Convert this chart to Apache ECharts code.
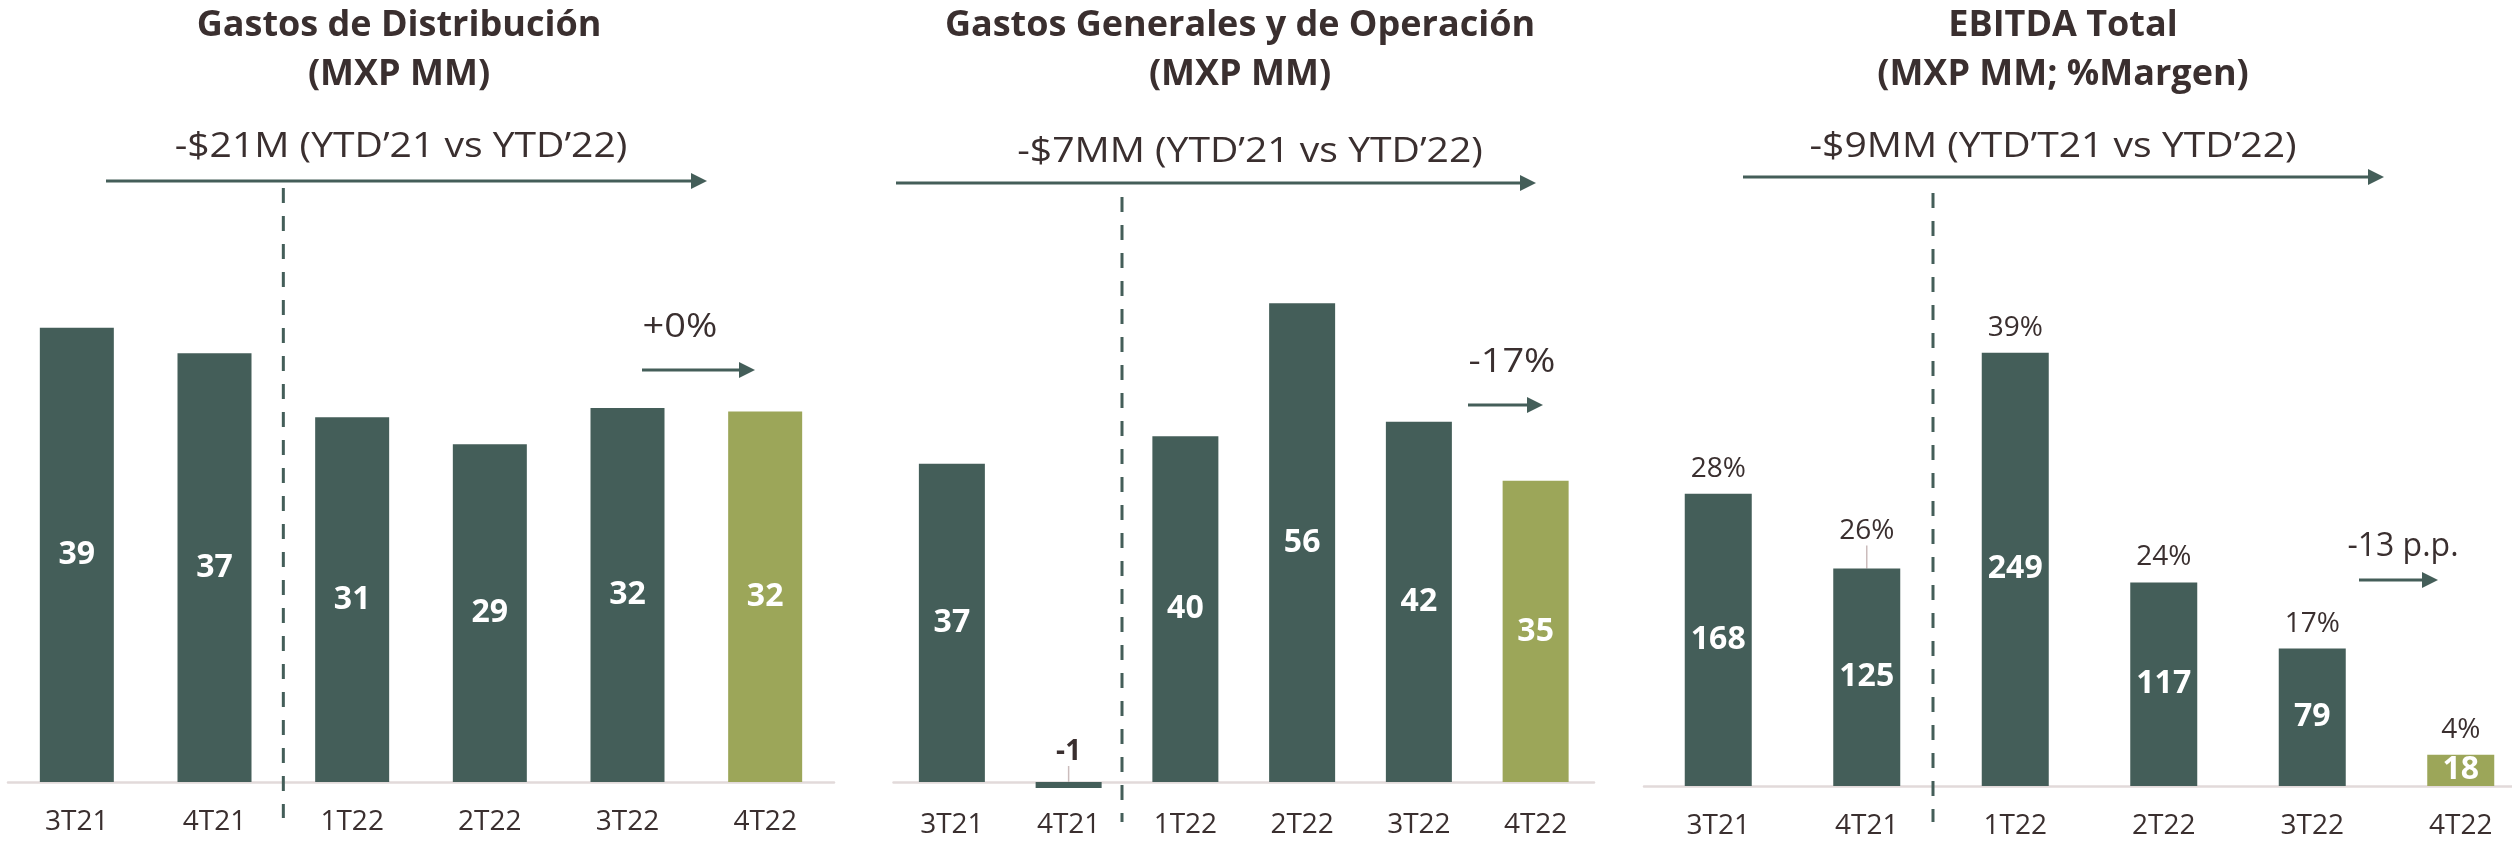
<!DOCTYPE html>
<html>
<head>
<meta charset="utf-8">
<script src="https://cdn.jsdelivr.net/npm/echarts@6/dist/echarts.min.js"></script>
<style>
html,body{margin:0;padding:0;background:#fff;}
#main{width:2512px;height:842px;}
</style>
</head>
<body>
<div id="main"></div>
<script>
// datos
var categories = ['3T21', '4T21', '1T22', '2T22', '3T22', '4T22'];
var distribucion = [39.0, 36.8, 31.3, 29.0, 32.1, 31.8];
var generales = [37.1, -0.7, 40.3, 55.8, 42.0, 35.1];
var ebitda = [168, 125, 249, 117, 79, 18];
var margen = [28, 26, 39, 24, 17, 4];
var titulos = [
    ['Gastos de Distribución', '(MXP MM)'],
    ['Gastos Generales y de Operación', '(MXP MM)'],
    ['EBITDA Total', '(MXP MM; %Margen)']
];
var ytd = ['-$21M (YTD’21 vs YTD’22)', '-$7MM (YTD’21 vs YTD’22)', '-$9MM (YTD’T21 vs YTD’22)'];
var cambio = ['+0%', '-17%', '-13 p.p.'];

(function(dom){
    var GREEN = '#445e59', OLIVE = '#9ca659', TEXT = '#3a2f2f', AXIS = '#e2dada', GUIDE = '#cbbcbc';
    var FONT = "'Open Sans', 'Noto Sans', sans-serif";

    var app = {
        chart: null,
        init: function(){
            this.chart = echarts.init(dom.getElementById('main'));
            this.chart.setOption(this.buildOption());
            this.chart.setOption({graphic: this.buildGraphic()});
        },
        barColor: function(p){
            return p.dataIndex === categories.length - 1 ? OLIVE : GREEN;
        },
        grid: function(left, width, top, height){
            // sin ajuste automatico de bordes (v6)
            return {left: left, width: width, top: top, height: height, containLabel: false, outerBoundsMode: 'none'};
        },
        xAxis: function(i, margin){
            return {
                type: 'category', gridIndex: i, data: categories,
                axisTick: {show: false},
                axisLine: {lineStyle: {color: AXIS, width: 2.5}},
                axisLabel: {color: TEXT, fontSize: 28, fontFamily: FONT, margin: margin}
            };
        },
        yAxis: function(i, min, max, step){
            return {type: 'value', gridIndex: i, min: min, max: max, interval: step, show: false, splitLine: {show: false}};
        },
        valueLabel: {
            show: true, position: 'inside', color: '#fff', fontSize: 32, fontWeight: 'bold', fontFamily: FONT,
            formatter: function(p){ return Math.round(p.value); }
        },
        buildOption: function(){
            var self = this;
            return {
                animation: false,
                backgroundColor: '#fff',
                grid: [
                    this.grid(8, 826, 199.5, 582.5),
                    this.grid(893.5, 700.5, 267.2, 523.4),
                    this.grid(1644, 891, 264, 522)
                ],
                xAxis: [this.xAxis(0, 26), this.xAxis(1, 20), this.xAxis(2, 26)],
                yAxis: [this.yAxis(0, 0, 50, 10), this.yAxis(1, -1, 60, 1), this.yAxis(2, 0, 300, 50)],
                series: [
                    {
                        type: 'bar', xAxisIndex: 0, yAxisIndex: 0, barWidth: 74,
                        data: distribucion,
                        itemStyle: {color: self.barColor},
                        label: self.valueLabel
                    },
                    {
                        type: 'bar', xAxisIndex: 1, yAxisIndex: 1, barWidth: 66,
                        data: generales.map(function(v){
                            if (v < 0) {
                                return {
                                    value: v,
                                    label: {position: 'top', color: TEXT, fontSize: 28, distance: 4},
                                    labelLine: {show: true, lineStyle: {color: GUIDE, width: 1.5}}
                                };
                            }
                            return v;
                        }),
                        itemStyle: {color: self.barColor},
                        label: self.valueLabel,
                        labelLayout: function(p){
                            if (generales[p.dataIndex] < 0) return {dy: -12};
                        }
                    },
                    {
                        type: 'bar', xAxisIndex: 2, yAxisIndex: 2, barWidth: 67,
                        data: ebitda,
                        itemStyle: {color: self.barColor},
                        label: self.valueLabel
                    },
                    {
                        // margen sobre cada barra
                        type: 'bar', xAxisIndex: 2, yAxisIndex: 2, barWidth: 67, barGap: '-100%',
                        data: ebitda.map(function(v, i){
                            if (i === 1) {
                                return {value: v, labelLine: {show: true, lineStyle: {color: GUIDE, width: 1.5}}};
                            }
                            return v;
                        }),
                        silent: true,
                        itemStyle: {color: 'rgba(0,0,0,0)'},
                        label: {
                            show: true, position: 'top', distance: 11, color: TEXT, fontSize: 28, fontFamily: FONT,
                            formatter: function(p){ return margen[p.dataIndex] + '%'; }
                        },
                        labelLine: {show: false},
                        labelLayout: function(p){
                            if (p.dataIndex === 1) return {dy: -12};
                        }
                    }
                ]
            };
        },
        arrow: function(x1, x2, y){
            return {
                type: 'group', children: [
                    {type: 'line', shape: {x1: x1, y1: y, x2: x2 - 12, y2: y}, style: {stroke: GREEN, lineWidth: 3}},
                    {type: 'polygon', shape: {points: [[x2 - 16, y - 8], [x2, y], [x2 - 16, y + 8]]}, style: {fill: GREEN}}
                ]
            };
        },
        text: function(str, x, y, size, bold, sx){
            return {
                type: 'text', x: x, y: y, scaleX: sx || 1,
                style: {
                    text: str, fill: TEXT, align: 'center', verticalAlign: 'middle',
                    fontSize: size, fontWeight: bold ? 'bold' : 'normal', fontFamily: FONT
                }
            };
        },
        buildGraphic: function(){
            var g = [];
            var titleX = [399, 1240, 2063];
            var ytdPos = [[401, 147], [1250, 152], [2053, 147]];
            var bigArrow = [[106, 707, 181], [896, 1536, 183], [1743, 2384, 177]];
            var dash = [[188, 818], [197, 822], [193, 822]];
            var cambioPos = [[680, 328], [1512, 363], [2403, 547]];
            var cambioScale = [1.15, 1.15, 1];
            var smallArrow = [[642, 755, 370], [1468, 1543, 405], [2359, 2438, 580]];
            var dashShift = [0, -5, -8];
            for (var i = 0; i < 3; i++) {
                g.push(this.text(titulos[i][0], titleX[i], 26, 36, true));
                g.push(this.text(titulos[i][1], titleX[i], 75, 36, true));
                g.push(this.text(ytd[i], ytdPos[i][0], ytdPos[i][1], 34, false, 1.15));
                g.push(this.arrow(bigArrow[i][0], bigArrow[i][1], bigArrow[i][2]));
                g.push(this.text(cambio[i], cambioPos[i][0], cambioPos[i][1], i === 2 ? 32 : 33, false, cambioScale[i]));
                g.push(this.arrow(smallArrow[i][0], smallArrow[i][1], smallArrow[i][2]));
                // linea punteada entre 4T21 y 1T22
                var a = this.chart.convertToPixel({xAxisIndex: i}, 1);
                var b = this.chart.convertToPixel({xAxisIndex: i}, 2);
                var x = (a + b) / 2 + dashShift[i];
                g.push({
                    type: 'line', z: 10,
                    shape: {x1: x, y1: dash[i][0], x2: x, y2: dash[i][1]},
                    style: {stroke: GREEN, lineWidth: 3, lineDash: [15, 13]}
                });
            }
            return g;
        }
    };
    app.init();
})(document);
</script>
</body>
</html>
